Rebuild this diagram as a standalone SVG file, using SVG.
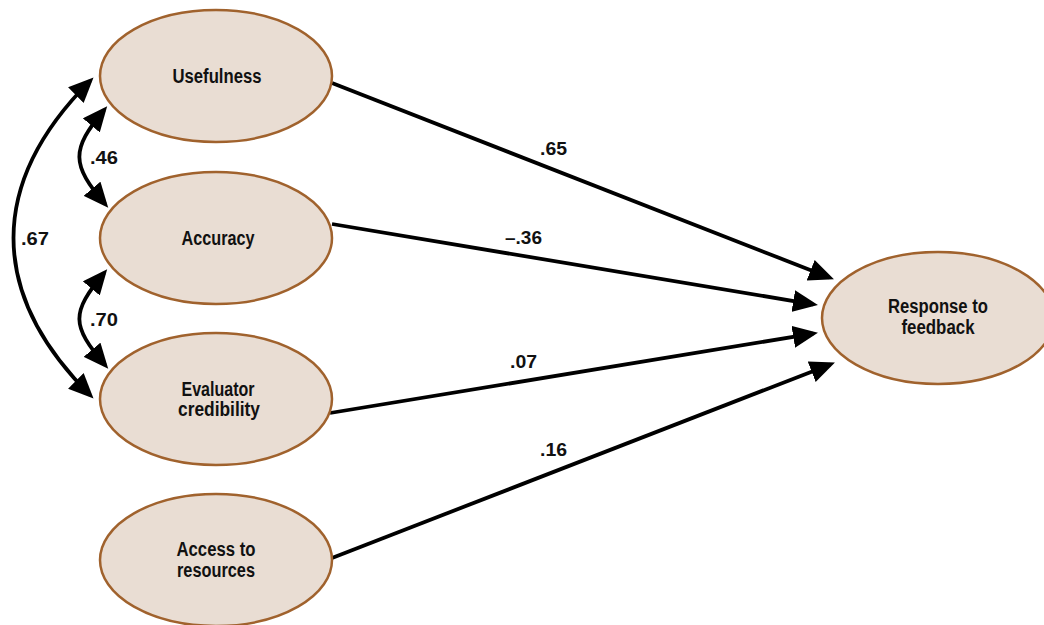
<svg xmlns="http://www.w3.org/2000/svg" width="1044" height="625" viewBox="0 0 1044 625">
<style>
.node ellipse{fill:#e9ddd3;stroke:#a0622d;stroke-width:2.5}
.node text{font-family:"Liberation Sans Narrow","Liberation Sans",Arial,sans-serif;font-weight:bold;font-size:20px;fill:#111;text-anchor:middle}
.lbl{font-family:"Liberation Sans Narrow","Liberation Sans",Arial,sans-serif;font-weight:bold;font-size:18px;fill:#111}
.edge{fill:none;stroke:#000;stroke-width:3.8}
</style>
<defs>
<marker id="ah" markerUnits="userSpaceOnUse" markerWidth="26" markerHeight="22" refX="20" refY="11" orient="auto-start-reverse" viewBox="0 0 26 22">
<path d="M0,0 L25,11 L0,22 z" fill="#000"/>
</marker>
</defs>
<rect width="1044" height="625" fill="#fff"/>
<g id="connectors">
<path class="edge" d="M332,83 L829.3,277.5" marker-end="url(#ah)"/>
<path class="edge" d="M332,224 L813,304.3" marker-end="url(#ah)"/>
<path class="edge" d="M330,413 L813,333.6" marker-end="url(#ah)"/>
<path class="edge" d="M332,558 L830.3,364.4" marker-end="url(#ah)"/>
<path class="edge" d="M104,110 C71,150 71,164 105,204" marker-start="url(#ah)" marker-end="url(#ah)"/>
<path class="edge" d="M104,273 C71,313 71,325 105,365" marker-start="url(#ah)" marker-end="url(#ah)"/>
<path class="edge" d="M90,81 C-12,183 -12,293 90,395" marker-start="url(#ah)" marker-end="url(#ah)"/>
<text class="lbl" x="540" y="155" textLength="27" lengthAdjust="spacingAndGlyphs">.65</text>
<text class="lbl" x="505" y="244" textLength="37" lengthAdjust="spacingAndGlyphs">–.36</text>
<text class="lbl" x="510" y="368" textLength="27" lengthAdjust="spacingAndGlyphs">.07</text>
<text class="lbl" x="540" y="456" textLength="27" lengthAdjust="spacingAndGlyphs">.16</text>
<text class="lbl" x="90" y="164" textLength="28" lengthAdjust="spacingAndGlyphs">.46</text>
<text class="lbl" x="90" y="326" textLength="28" lengthAdjust="spacingAndGlyphs">.70</text>
<text class="lbl" x="21" y="245" textLength="28" lengthAdjust="spacingAndGlyphs">.67</text>
</g>
<g id="usefulness" class="node">
<ellipse cx="216" cy="76" rx="116" ry="66"/>
<text x="217" y="83" textLength="89" lengthAdjust="spacingAndGlyphs">Usefulness</text>
</g>
<g id="accuracy" class="node">
<ellipse cx="216" cy="238" rx="116" ry="66"/>
<text x="218" y="245" textLength="73" lengthAdjust="spacingAndGlyphs">Accuracy</text>
</g>
<g id="evaluator" class="node">
<ellipse cx="216" cy="399" rx="116" ry="66"/>
<text x="218" y="396" textLength="73" lengthAdjust="spacingAndGlyphs">Evaluator</text>
<text x="219" y="416" textLength="82" lengthAdjust="spacingAndGlyphs">credibility</text>
</g>
<g id="access" class="node">
<ellipse cx="216" cy="560" rx="116" ry="66"/>
<text x="216" y="556" textLength="79" lengthAdjust="spacingAndGlyphs">Access to</text>
<text x="216" y="577" textLength="78" lengthAdjust="spacingAndGlyphs">resources</text>
</g>
<g id="response" class="node">
<ellipse cx="938" cy="318" rx="116" ry="66"/>
<text x="938" y="313" textLength="100" lengthAdjust="spacingAndGlyphs">Response to</text>
<text x="938" y="334" textLength="73" lengthAdjust="spacingAndGlyphs">feedback</text>
</g>
</svg>
